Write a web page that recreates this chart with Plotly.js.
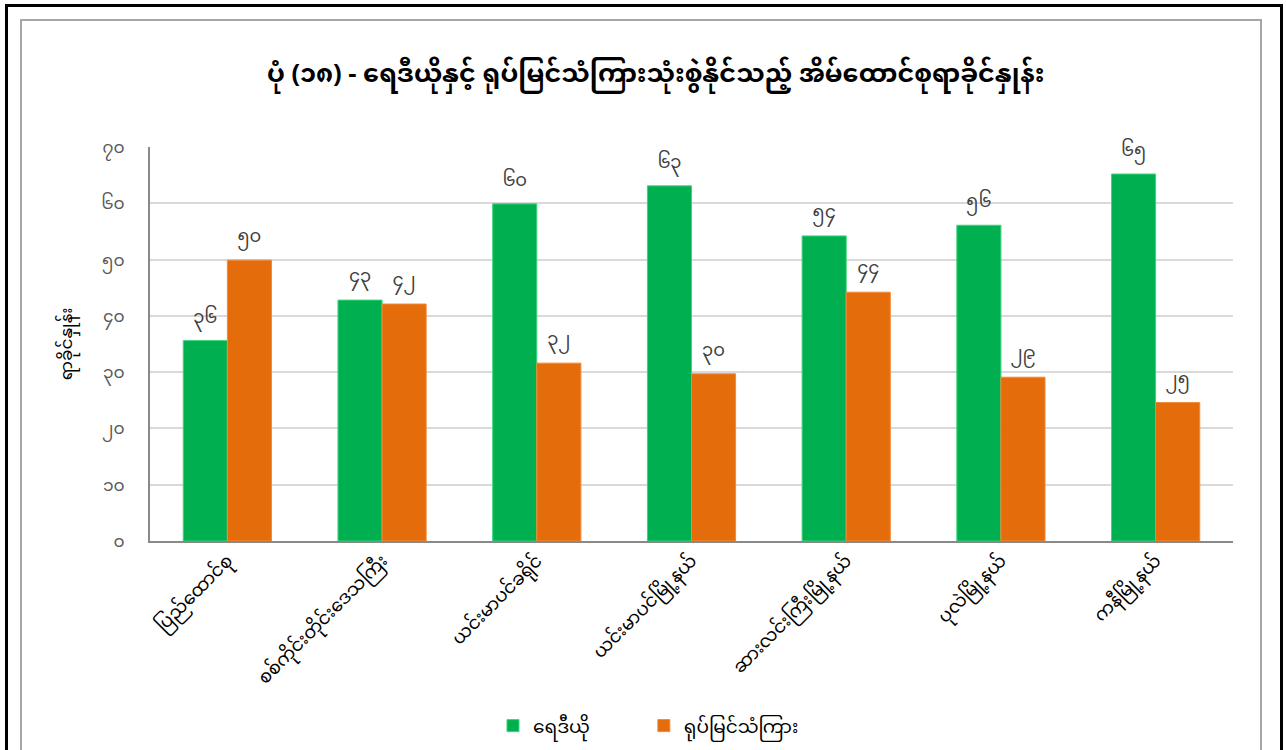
<!DOCTYPE html>
<html>
<head>
<meta charset="utf-8">
<script src="https://cdn.plot.ly/plotly-3.0.1.min.js"></script>
<style>
  html, body { margin: 0; padding: 0; width: 1286px; height: 750px; overflow: hidden; background: #ffffff; }
  #outer { position: absolute; left: 5px; top: 4px; width: 1272px; height: 900px; border: 3px solid #000000; box-sizing: content-box; }
  #inner { position: absolute; left: 20px; top: 19px; width: 1238px; height: 900px; border: 2px solid #a6a6a6; }
  #chart { position: absolute; left: 0; top: 0; width: 1286px; height: 750px; }
</style>
</head>
<body>
<div id="outer"></div>
<div id="inner"></div>
<div id="chart"></div>
<script>
const titleText = 'ပုံ (၁၈) - ရေဒီယိုနှင့် ရုပ်မြင်သံကြားသုံးစွဲနိုင်သည့် အိမ်ထောင်စုရာခိုင်နှုန်း';
const yTitle = 'ရာခိုင်နှုန်း';
const categories = ['ပြည်ထောင်စု', 'စစ်ကိုင်းတိုင်းဒေသကြီး', 'ယင်းမာပင်ခရိုင်', 'ယင်းမာပင်မြို့နယ်', 'ဆားလင်းကြီးမြို့နယ်', 'ပုလဲမြို့နယ်', 'ကနီမြို့နယ်'];
const seriesNames = ['ရေဒီယို', 'ရုပ်မြင်သံကြား'];
const radio = [35.6, 42.8, 59.9, 63.1, 54.2, 56.1, 65.2];
const tv = [49.9, 42.1, 31.6, 29.7, 44.2, 29.1, 24.6];
const tickVals = [0, 10, 20, 30, 40, 50, 60, 70];
const tickText = ['၀', '၁၀', '၂၀', '၃၀', '၄၀', '၅၀', '၆၀', '၇၀'];

const MY = ['၀','၁','၂','၃','၄','၅','၆','၇','၈','၉'];
function toMy(v) { return String(Math.round(v)).split('').map(d => MY[+d]).join(''); }

const FONT = '"Noto Sans Myanmar", "Myanmar Text", Padauk, "Noto Sans", "DejaVu Sans", sans-serif';

const traces = [
  { type: 'bar', name: seriesNames[0], legend: 'legend', x: categories, y: radio, text: radio.map(toMy),
    textposition: 'outside', cliponaxis: false,
    textfont: { family: FONT, size: 18, color: '#404040' },
    marker: { color: '#00b050', line: { color: '#3dd47a', width: 1 } } },
  { type: 'bar', name: seriesNames[1], legend: 'legend2', x: categories, y: tv, text: tv.map(toMy),
    textposition: 'outside', cliponaxis: false,
    textfont: { family: FONT, size: 18, color: '#404040' },
    marker: { color: '#e46c0a', line: { color: '#f08a3a', width: 1 } } }
];

const legendBase = { orientation: 'h', xanchor: 'left', y: -0.518, yanchor: 'bottom',
                     itemwidth: 30, valign: 'middle',
                     font: { family: FONT, size: 18.5, color: '#000000' }, bgcolor: 'rgba(0,0,0,0)' };

const layout = {
  width: 1286, height: 750,
  paper_bgcolor: 'rgba(0,0,0,0)', plot_bgcolor: 'rgba(0,0,0,0)',
  margin: { l: 150, r: 53, t: 147, b: 209, autoexpand: false },
  font: { family: FONT, color: '#000000' },
  title: { text: titleText, font: { family: FONT, size: 25.5, color: '#000000', weight: 'bold' },
           x: 0.467, xanchor: 'center', y: 0.903, yanchor: 'middle', xref: 'paper', yref: 'container' },
  barmode: 'group', bargap: 0.43, bargroupgap: 0,
  xaxis: {
    type: 'category', tickangle: -45, showgrid: false, automargin: false,
    showline: true, linecolor: '#898989', linewidth: 2,
    ticks: '', tickfont: { family: FONT, size: 18, color: '#000000' }
  },
  yaxis: {
    range: [0, 70], tickvals: tickVals, ticktext: tickText, automargin: false,
    showgrid: true, gridcolor: '#d9d9d9', gridwidth: 2,
    showline: true, linecolor: '#898989', linewidth: 2, zeroline: false,
    ticks: '', ticklabelstandoff: 20,
    tickfont: { family: FONT, size: 17, color: '#595959' },
    title: { text: yTitle, font: { family: FONT, size: 17, color: '#000000' }, standoff: 24 }
  },
  showlegend: true,
  legend: Object.assign({}, legendBase, { x: 0.3167 }),
  legend2: Object.assign({}, legendBase, { x: 0.456 })
};

Plotly.newPlot('chart', traces, layout, { displayModeBar: false, staticPlot: true });
</script>
</body>
</html>
